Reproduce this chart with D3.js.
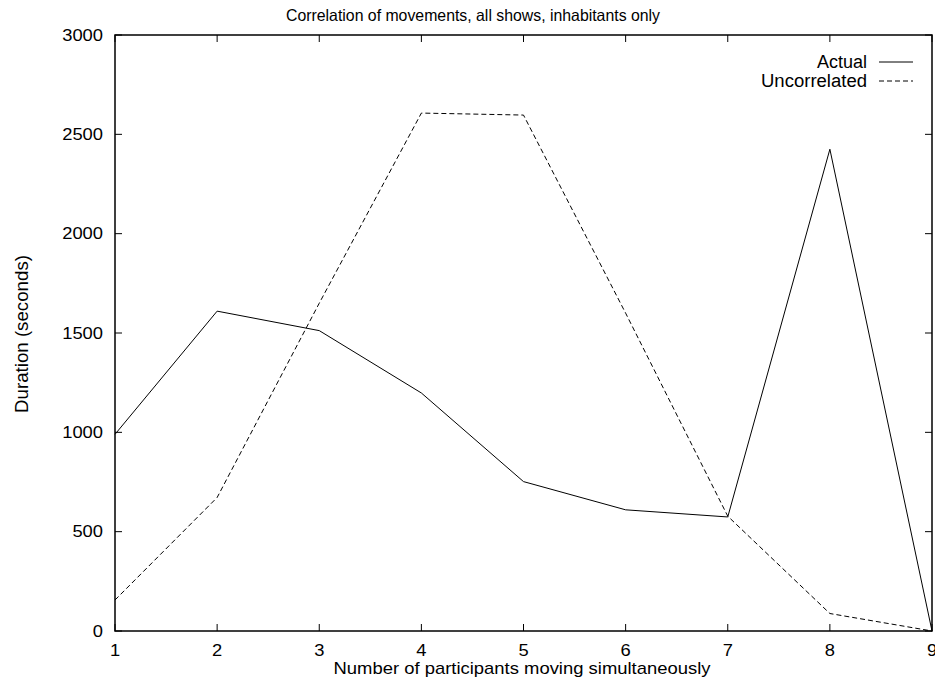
<!DOCTYPE html>
<html>
<head>
<meta charset="utf-8">
<script src="https://cdn.jsdelivr.net/npm/d3@7"></script>
<style>
  body { margin: 0; background: #fff; }
  svg text { font-family: "Liberation Sans", Arial, sans-serif; fill: #000; }
</style>
</head>
<body>
<svg id="chart" width="935" height="679"></svg>
<script>
const participants = [1, 2, 3, 4, 5, 6, 7, 8, 9];
const actual = [990, 1610, 1512, 1198, 752, 610, 574, 2425, 0];
const uncorrelated = [156, 672, 1650, 2607, 2597, 1600, 578, 88, 0];
const xTicks = [1, 2, 3, 4, 5, 6, 7, 8, 9];
const yTicks = [0, 500, 1000, 1500, 2000, 2500, 3000];

const svg = d3.select("#chart");
const plotL = 115, plotR = 932, plotT = 35, plotB = 631;

const x = d3.scaleLinear().domain([1, 9]).range([plotL, plotR]);
const y = d3.scaleLinear().domain([0, 3000]).range([plotB, plotT]);

// the original font is a bit wider than Liberation Sans, so stretch text to its width
const digitW = 10.2;

// frame
svg.append("rect")
    .attr("x", plotL).attr("y", plotT)
    .attr("width", plotR - plotL).attr("height", plotB - plotT)
    .attr("fill", "none").attr("stroke", "#000").attr("stroke-width", 1.5);

// ticks on all four sides, like gnuplot
const tickLen = 7;
const g = svg.append("g").attr("stroke", "#000").attr("stroke-width", 1);
xTicks.forEach(t => {
    g.append("line").attr("x1", x(t)).attr("x2", x(t)).attr("y1", plotB).attr("y2", plotB - tickLen);
    g.append("line").attr("x1", x(t)).attr("x2", x(t)).attr("y1", plotT).attr("y2", plotT + tickLen);
});
yTicks.forEach(t => {
    g.append("line").attr("x1", plotL).attr("x2", plotL + tickLen).attr("y1", y(t)).attr("y2", y(t));
    g.append("line").attr("x1", plotR).attr("x2", plotR - tickLen).attr("y1", y(t)).attr("y2", y(t));
});

svg.selectAll(".xl").data(xTicks).enter().append("text")
    .attr("x", d => x(d)).attr("y", 656)
    .attr("text-anchor", "middle").attr("font-size", "16px")
    .attr("textLength", d => String(d).length * digitW)
    .attr("lengthAdjust", "spacingAndGlyphs")
    .text(d => d);

svg.selectAll(".yl").data(yTicks).enter().append("text")
    .attr("x", 103).attr("y", d => y(d) + 5.7)
    .attr("text-anchor", "end").attr("font-size", "16px")
    .attr("textLength", d => String(d).length * digitW)
    .attr("lengthAdjust", "spacingAndGlyphs")
    .text(d => d);

svg.append("text")
    .attr("x", 473).attr("y", 21)
    .attr("text-anchor", "middle").attr("font-size", "16.5px")
    .attr("textLength", 374).attr("lengthAdjust", "spacingAndGlyphs")
    .text("Correlation of movements, all shows, inhabitants only");

svg.append("text")
    .attr("x", 522).attr("y", 674)
    .attr("text-anchor", "middle").attr("font-size", "17px")
    .attr("textLength", 377).attr("lengthAdjust", "spacingAndGlyphs")
    .text("Number of participants moving simultaneously");

svg.append("text")
    .attr("transform", "translate(28,334) rotate(-90)")
    .attr("text-anchor", "middle").attr("font-size", "17.5px")
    .attr("textLength", 158).attr("lengthAdjust", "spacingAndGlyphs")
    .text("Duration (seconds)");

const line = d3.line().x((d, i) => x(participants[i])).y(d => y(d));

svg.append("path").datum(actual)
    .attr("d", line)
    .attr("fill", "none").attr("stroke", "#000").attr("stroke-width", 1);

svg.append("path").datum(uncorrelated)
    .attr("d", line)
    .attr("fill", "none").attr("stroke", "#000").attr("stroke-width", 1)
    .attr("stroke-dasharray", "5,3");

// legend
const legend = [
    { name: "Actual", dash: null, cy: 62, w: 50 },
    { name: "Uncorrelated", dash: "5,3", cy: 81, w: 106 }
];
legend.forEach(l => {
    svg.append("text")
        .attr("x", 867).attr("y", l.cy + 6)
        .attr("text-anchor", "end").attr("font-size", "18px")
        .attr("textLength", l.w).attr("lengthAdjust", "spacingAndGlyphs")
        .text(l.name);
    svg.append("line")
        .attr("x1", 879).attr("x2", 913).attr("y1", l.cy).attr("y2", l.cy)
        .attr("stroke", "#000").attr("stroke-width", 1)
        .attr("stroke-dasharray", l.dash);
});
</script>
</body>
</html>
